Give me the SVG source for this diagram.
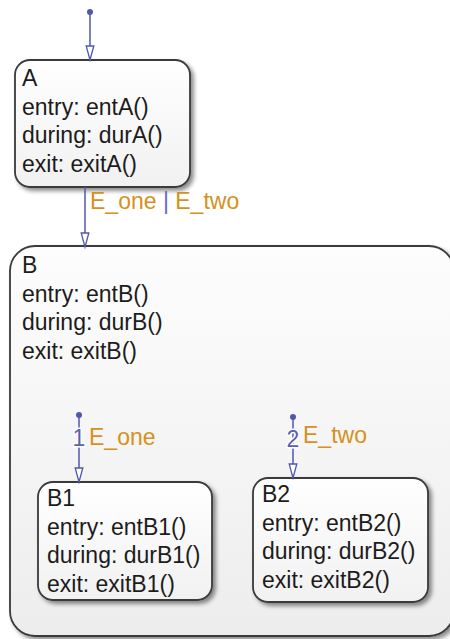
<svg xmlns="http://www.w3.org/2000/svg" width="450" height="639" viewBox="0 0 450 639">
<style>
.st{stroke:#3a3a3a;stroke-width:1.8;filter:url(#sh)}
.tx{font-family:"Liberation Sans",Arial,sans-serif;font-size:23px;fill:#1c1c1c}
.lb{font-family:"Liberation Sans",Arial,sans-serif;font-size:23px;fill:#d4921c}
.num{font-family:"Liberation Sans",Arial,sans-serif;font-size:23px;fill:#5a60b4;stroke:#ffffff;stroke-width:3;paint-order:stroke}
.tr{stroke:#5058aa;stroke-width:1.5;fill:none}
.dot{fill:#5058aa}
</style>
<defs>
<linearGradient id="gs" x1="0" y1="0" x2="0" y2="1">
<stop offset="0" stop-color="#ffffff"/>
<stop offset="1" stop-color="#f1f1f1"/>
</linearGradient>
<linearGradient id="gb" x1="0" y1="0" x2="0" y2="1">
<stop offset="0" stop-color="#fdfdfd"/>
<stop offset="1" stop-color="#ededed"/>
</linearGradient>
<filter id="sh" x="-10%" y="-10%" width="130%" height="130%">
<feDropShadow dx="3" dy="3" stdDeviation="2" flood-color="#000000" flood-opacity="0.45"/>
</filter>
<marker id="ar" markerUnits="userSpaceOnUse" markerWidth="18" markerHeight="12" refX="15" refY="5" orient="auto">
<path d="M1,1.2 L15,5 L1,8.8 Z" fill="#ffffff" stroke="#5058aa" stroke-width="1.3"/>
</marker>
</defs>
<rect width="450" height="639" fill="#ffffff"/>
<g id="B">
<rect class="st" x="10" y="246" width="444" height="390" rx="25" fill="url(#gb)"/>
<text class="tx" x="22" y="273">B</text>
<text class="tx" x="22" y="301.5">entry: entB()</text>
<text class="tx" x="22" y="330">during: durB()</text>
<text class="tx" x="22" y="358.5">exit: exitB()</text>
</g>
<g id="A">
<rect class="st" x="15" y="60" width="175" height="127" rx="15" fill="url(#gs)"/>
<text class="tx" x="22" y="86">A</text>
<text class="tx" x="22" y="114.5">entry: entA()</text>
<text class="tx" x="22" y="143">during: durA()</text>
<text class="tx" x="22" y="171.5">exit: exitA()</text>
</g>
<g id="B1">
<rect class="st" x="38" y="482" width="174" height="118" rx="15" fill="url(#gs)"/>
<text class="tx" x="47" y="506">B1</text>
<text class="tx" x="47" y="535">entry: entB1()</text>
<text class="tx" x="47" y="563">during: durB1()</text>
<text class="tx" x="47" y="592">exit: exitB1()</text>
</g>
<g id="B2">
<rect class="st" x="253" y="478" width="175" height="124" rx="15" fill="url(#gs)"/>
<text class="tx" x="262" y="502">B2</text>
<text class="tx" x="262" y="531">entry: entB2()</text>
<text class="tx" x="262" y="559">during: durB2()</text>
<text class="tx" x="262" y="588">exit: exitB2()</text>
</g>
<g id="connectors">
<circle class="dot" cx="90" cy="12" r="3"/>
<line class="tr" x1="90" y1="12" x2="90" y2="60" marker-end="url(#ar)"/>
<line class="tr" x1="85" y1="187" x2="85" y2="247" marker-end="url(#ar)"/>
<text class="lb" x="90" y="209">E_one <tspan fill="#6a6ab8">|</tspan> E_two</text>
<circle class="dot" cx="79" cy="415" r="3"/>
<line class="tr" x1="79" y1="415" x2="79" y2="482" marker-end="url(#ar)"/>
<text class="num" x="79" y="446" text-anchor="middle">1</text>
<text class="lb" x="89" y="445">E_one</text>
<circle class="dot" cx="293" cy="417" r="3"/>
<line class="tr" x1="293" y1="417" x2="293" y2="478" marker-end="url(#ar)"/>
<text class="num" x="293" y="447" text-anchor="middle">2</text>
<text class="lb" x="303" y="443">E_two</text>
</g>
</svg>
